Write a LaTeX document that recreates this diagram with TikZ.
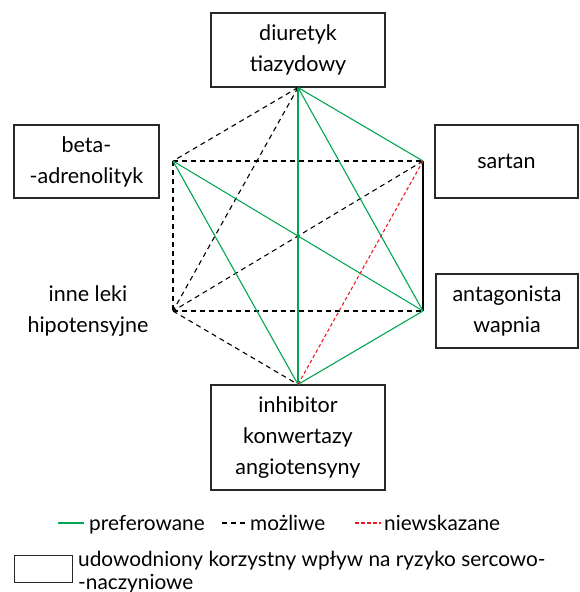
\documentclass[tikz,border=0pt]{standalone}
\usepackage{fontspec}
\setmainfont{Lato}
\definecolor{pgreen}{RGB}{0,166,81}
\definecolor{nred}{RGB}{237,28,36}
\definecolor{bord}{RGB}{40,40,40}
\begin{document}
\begin{tikzpicture}[x=1pt,y=-1pt,
  box/.style={draw=bord,line width=1.1pt,align=center,inner sep=0pt,font=\fontsize{21.5}{31}\selectfont},
  lbl/.style={align=center,inner sep=0pt,font=\fontsize{21.5}{31}\selectfont},
  leg/.style={inner sep=0pt,font=\fontsize{20.8}{23}\selectfont,align=left},
  pref/.style={draw=pgreen,line width=1.1pt},
  mozl/.style={draw=black,line width=1.1pt,dash pattern=on 5pt off 4pt},
  niew/.style={draw=nred,line width=1.1pt,dash pattern=on 3.5pt off 2.5pt},
  solidk/.style={draw=black,line width=1.1pt}]
\useasboundingbox (0,0) rectangle (579,592);
% boxes
\node[box,minimum width=174pt,minimum height=74pt] (diu) at (298,50) {diuretyk\\tiazydowy};
\node[box,minimum width=145pt,minimum height=73pt] (beta) at (86.5,161.5) {beta-\\-adrenolityk};
\node[box,minimum width=143pt,minimum height=73pt] (sart) at (506.5,161.5) {sartan};
\node[box,minimum width=142pt,minimum height=74pt] (anta) at (507,311) {antagonista\\wapnia};
\node[box,minimum width=174pt,minimum height=105pt] (inhi) at (298,437.5) {inhibitor\\konwertazy\\angiotensyny};
\node[lbl] (inne) at (88,311) {inne leki\\hipotensyjne};
% hexagon vertices
\coordinate (T) at (diu.south);
\coordinate (B) at (inhi.north);
\coordinate (UL) at (173,161);
\coordinate (LL) at (173,311);
\coordinate (UR) at (423,161);
\coordinate (LR) at (423,311);
% possible (black dashed)
\draw[mozl] (T) -- (UL);
\draw[mozl] (T) -- (LL);
\draw[mozl] (UL) -- (UR);
\draw[mozl] (UL) -- (LL);
\draw[mozl] (UR) -- (LL);
\draw[mozl] (LL) -- (LR);
\draw[mozl] (LL) -- (B);
% solid black
\draw[solidk] (UR) -- (LR);
% preferred (green)
\draw[pref] (T) -- (B);
\draw[pref] (T) -- (LR);
\draw[pref] (T) -- (UR);
\draw[pref] (UL) -- (LR);
\draw[pref] (UL) -- (B);
\draw[pref] (LR) -- (B);
% not indicated (red)
\draw[niew] (UR) -- (B);
% legend
\coordinate (g1) at (58,523); \coordinate (g2) at (84,523);
\draw[pref] (g1) -- (g2);
\node[leg,anchor=base west] (lg) at (89,530) {preferowane};
\coordinate (k1) at (222,523); \coordinate (k2) at (246,523);
\draw[mozl] (k1) -- (k2);
\node[leg,anchor=base west] (lk) at (250,530) {możliwe};
\coordinate (r1) at (355,523); \coordinate (r2) at (381,523);
\draw[niew] (r1) -- (r2);
\node[leg,anchor=base west] (lr) at (384,530) {niewskazane};
\node[draw=bord,line width=1pt,minimum width=58pt,minimum height=27pt,inner sep=0pt] (lbox) at (43,568.5) {};
\node[leg,anchor=base west] (lb1) at (78,566) {udowodniony korzystny wpływ na ryzyko sercowo-};
\node[leg,anchor=base west] (lb2) at (78,589) {-naczyniowe};
\end{tikzpicture}
\end{document}
